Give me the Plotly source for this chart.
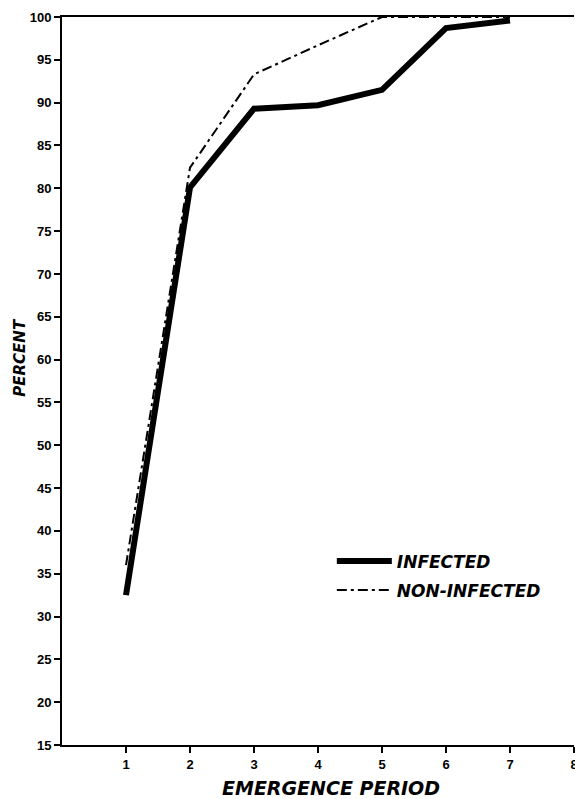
import plotly.graph_objects as go

periods = [1, 2, 3, 4, 5, 6, 7]
infected = [32.5, 80.1, 89.3, 89.7, 91.5, 98.7, 99.6]
non_infected = [36.0, 82.4, 93.3, 96.7, 100.0, 100.0, 100.0]
x_ticks = [1, 2, 3, 4, 5, 6, 7, 8]
y_ticks = list(range(15, 101, 5))

FONT = "Liberation Sans"
TFONT = "DejaVu Sans"

fig = go.Figure()
fig.add_trace(go.Scatter(
    x=periods, y=infected, mode="lines", name="INFECTED", legendgroup="a",
    line=dict(color="black", width=6), cliponaxis=False,
))
fig.add_trace(go.Scatter(
    x=periods, y=non_infected, mode="lines", name="NON-INFECTED", legendgroup="b",
    line=dict(color="black", width=2, dash="10px,4px,3px,4px"), cliponaxis=False,
))

fig.update_layout(
    width=575, height=799,
    margin=dict(l=62, r=1, t=17, b=54, autoexpand=False),
    paper_bgcolor="white", plot_bgcolor="white",
    showlegend=True,
    legend=dict(
        x=0.527, y=0.277, xanchor="left", yanchor="top",
        bgcolor="rgba(0,0,0,0)",
        font=dict(family=TFONT, size=17, color="black", weight="bold", style="italic"),
        traceorder="grouped", tracegroupgap=4, itemwidth=55,
    ),
    xaxis=dict(
        range=[0, 8], tickmode="array", tickvals=x_ticks,
        ticks="outside", ticklen=6, tickwidth=1.5, tickcolor="black",
        showline=True, linecolor="black", linewidth=2, mirror=True,
        showgrid=False, zeroline=False, ticklabeloverflow="allow",
        tickfont=dict(family=FONT, size=13, color="black", weight="bold"),
    ),
    yaxis=dict(
        range=[15, 100], tickmode="array", tickvals=y_ticks,
        ticks="outside", ticklen=6, tickwidth=1.5, tickcolor="black",
        showline=True, linecolor="black", linewidth=2,
        showgrid=False, zeroline=False, ticklabeloverflow="allow",
        tickfont=dict(family=FONT, size=13, color="black", weight="bold"),
    ),
    annotations=[
        dict(text="EMERGENCE PERIOD", xref="paper", yref="paper",
             x=0.525, y=-0.059, xanchor="center", yanchor="middle", showarrow=False,
             font=dict(family=TFONT, size=19, color="black", weight="bold", style="italic")),
        dict(text="PERCENT", xref="paper", yref="paper", textangle=-90,
             x=-0.082, y=0.532, xanchor="center", yanchor="middle", showarrow=False,
             font=dict(family=TFONT, size=15, color="black", weight="bold", style="italic")),
    ],
)

fig.write_html("out.html", config={"displayModeBar": False},
               post_script="document.body.style.margin='0';")
